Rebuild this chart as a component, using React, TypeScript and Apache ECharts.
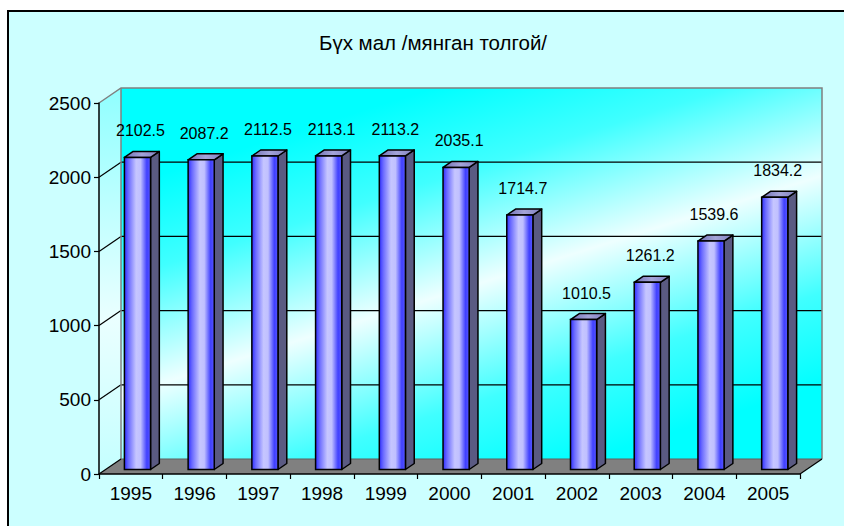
import React, { useEffect, useRef } from 'react';
import * as echarts from 'echarts';

const years = ['1995', '1996', '1997', '1998', '1999', '2000', '2001', '2002', '2003', '2004', '2005'];
const values = [2102.5, 2087.2, 2112.5, 2113.1, 2113.2, 2035.1, 1714.7, 1010.5, 1261.2, 1539.6, 1834.2];
const yTicks = [0, 500, 1000, 1500, 2000, 2500];
const chartTitle = 'Бүх мал /мянган толгой/';

const DX = 22;
const DY = -15;
const FONT = '"Liberation Sans", Arial, Helvetica, sans-serif';

export default function App() {
  const ref = useRef<HTMLDivElement>(null);

  useEffect(() => {
    const chart = echarts.init(ref.current as HTMLDivElement, null, { renderer: 'svg' });

    const frameRender = (params: any, api: any) => {
      const cs = params.coordSys;
      const x0 = cs.x;
      const x1 = cs.x + cs.width;
      const yZero = api.coord([0, yTicks[0]])[1];
      const yTop = api.coord([0, yTicks[yTicks.length - 1]])[1];
      const children: any[] = [];
      // back wall: light band running from left-middle to upper-right
      const cx = (x0 + x1) / 2 + DX - 40;
      const cy = (yZero + yTop) / 2 + DY + 25;
      const ux = 0.3;
      const uy = 0.954;
      const half = 200;
      children.push({
        type: 'polygon',
        shape: { points: [[x0 + DX, yTop + DY], [x1 + DX, yTop + DY], [x1 + DX, yZero + DY], [x0 + DX, yZero + DY]] },
        style: {
          fill: {
            type: 'linear',
            x: cx - ux * half, y: cy - uy * half,
            x2: cx + ux * half, y2: cy + uy * half,
            global: true,
            colorStops: [
              { offset: 0, color: '#00ffff' },
              { offset: 0.22, color: '#40ffff' },
              { offset: 0.5, color: '#eeffff' },
              { offset: 0.78, color: '#40ffff' },
              { offset: 1, color: '#00ffff' },
            ],
          },
          stroke: null,
        },
      });
      // side wall
      children.push({
        type: 'polygon',
        shape: { points: [[x0, yTop], [x0 + DX, yTop + DY], [x0 + DX, yZero + DY], [x0, yZero]] },
        style: {
          fill: {
            type: 'linear', x: 0, y: 0, x2: 0, y2: 1,
            colorStops: [
              { offset: 0, color: '#90ffff' },
              { offset: 0.6, color: '#eaffff' },
              { offset: 1, color: '#c4ffff' },
            ],
          },
          stroke: null,
        },
      });
      // floor
      children.push({
        type: 'polygon',
        shape: { points: [[x0, yZero], [x1, yZero], [x1 + DX, yZero + DY], [x0 + DX, yZero + DY]] },
        style: { fill: '#808080', stroke: null },
      });
      // gridlines
      yTicks.slice(1, yTicks.length - 1).forEach((t) => {
        const y = api.coord([0, t])[1];
        children.push({
          type: 'line',
          shape: { x1: x0 + DX, y1: y + DY, x2: x1 + DX, y2: y + DY },
          style: { stroke: '#000', lineWidth: 1.2 },
        });
        children.push({
          type: 'line',
          shape: { x1: x0, y1: y, x2: x0 + DX, y2: y + DY },
          style: { stroke: '#000', lineWidth: 1.2 },
        });
      });
      // wall edges (gray)
      children.push({
        type: 'polyline',
        shape: { points: [[x0, yTop], [x0 + DX, yTop + DY], [x1 + DX, yTop + DY], [x1 + DX, yZero + DY]] },
        style: { stroke: '#808080', lineWidth: 1.5, fill: null },
      });
      children.push({
        type: 'line',
        shape: { x1: x0 + DX, y1: yTop + DY, x2: x0 + DX, y2: yZero + DY },
        style: { stroke: '#808080', lineWidth: 1.5 },
      });
      children.push({
        type: 'line',
        shape: { x1: x0 + DX, y1: yZero + DY, x2: x1 + DX, y2: yZero + DY },
        style: { stroke: '#606060', lineWidth: 1.2 },
      });
      // floor diagonals (black)
      children.push({
        type: 'line',
        shape: { x1: x0, y1: yZero, x2: x0 + DX, y2: yZero + DY },
        style: { stroke: '#000', lineWidth: 1.2 },
      });
      children.push({
        type: 'line',
        shape: { x1: x1, y1: yZero, x2: x1 + DX, y2: yZero + DY },
        style: { stroke: '#000', lineWidth: 1.2 },
      });
      return { type: 'group', children };
    };

    const barRender = (params: any, api: any) => {
      const i = api.value(0);
      const v = api.value(1);
      const base = api.coord([i, 0]);
      const top = api.coord([i, v]);
      const cw = api.size([1, 0])[0];
      const bw = cw * 0.41;
      const f0 = 0.3;
      const f1 = 0.4;
      const L = base[0] + f0 * DX - bw / 2;
      const R = L + bw;
      const yb = base[1] + f0 * DY;
      const yt = top[1] + f0 * DY;
      const ox = f1 * DX;
      const oy = f1 * DY;
      return {
        type: 'group',
        children: [
          {
            type: 'polygon',
            shape: { points: [[R, yb], [R + ox, yb + oy], [R + ox, yt + oy], [R, yt]] },
            style: { fill: '#5a5a82', stroke: '#000', lineWidth: 1.5, lineJoin: 'round' },
          },
          {
            type: 'polygon',
            shape: { points: [[L, yt], [R, yt], [R + ox, yt + oy], [L + ox, yt + oy]] },
            style: {
              fill: {
                type: 'linear', x: 0, y: 0, x2: 1, y2: 0,
                colorStops: [
                  { offset: 0, color: '#7070b4' },
                  { offset: 0.5, color: '#a4a4d8' },
                  { offset: 1, color: '#8080c0' },
                ],
              },
              stroke: '#000', lineWidth: 1.5, lineJoin: 'round',
            },
          },
          {
            type: 'rect',
            shape: { x: L, y: yt, width: bw, height: yb - yt },
            style: {
              fill: {
                type: 'linear', x: 0, y: 0, x2: 1, y2: 0,
                colorStops: [
                  { offset: 0, color: '#2e2eff' },
                  { offset: 0.15, color: '#6a6aff' },
                  { offset: 0.45, color: '#c6c6ff' },
                  { offset: 0.62, color: '#c0c0ff' },
                  { offset: 0.86, color: '#4040ff' },
                  { offset: 1, color: '#5858ff' },
                ],
              },
              stroke: '#000', lineWidth: 1.5,
            },
          },
          {
            type: 'text',
            x: L + bw / 2 + 3,
            y: yt - 26.5,
            style: {
              text: v.toFixed(1),
              fill: '#000',
              font: '16px ' + FONT,
              align: 'center',
              verticalAlign: 'middle',
            },
          },
        ],
      };
    };

    chart.setOption({
      animation: false,
      backgroundColor: '#ffffff',
      graphic: [
        {
          type: 'rect',
          z: -10,
          silent: true,
          shape: { x: 8, y: 11, width: 900, height: 600 },
          style: { fill: '#ccffff', stroke: '#000', lineWidth: 2 },
        },
        {
          type: 'text',
          z: 10,
          x: 433,
          y: 42,
          style: {
            text: chartTitle,
            fill: '#000',
            font: '20.5px ' + FONT,
            align: 'center',
            verticalAlign: 'middle',
          },
        },
      ],
      grid: { left: 99, right: 44, top: 103, bottom: 52, containLabel: false },
      xAxis: {
        type: 'category',
        data: years,
        boundaryGap: true,
        z: 5,
        axisLine: { show: true, lineStyle: { color: '#000', width: 1.5 } },
        axisTick: { show: true, length: 5, lineStyle: { color: '#000', width: 1.2 } },
        axisLabel: { color: '#000', fontSize: 19, fontFamily: FONT, margin: 10 },
        splitLine: { show: false },
      },
      yAxis: {
        type: 'value',
        min: yTicks[0],
        max: yTicks[yTicks.length - 1],
        interval: yTicks[1] - yTicks[0],
        z: 5,
        axisLine: { show: true, lineStyle: { color: '#000', width: 1.5 } },
        axisTick: { show: true, length: 5, lineStyle: { color: '#000', width: 1.2 } },
        axisLabel: {
          color: '#000',
          fontSize: 19,
          fontFamily: FONT,
          margin: 8,
          formatter: (val: number) => String(val),
        },
        splitLine: { show: false },
      },
      series: [
        {
          type: 'custom',
          name: 'frame',
          z: 1,
          silent: true,
          renderItem: frameRender,
          data: [[0, 0]],
          encode: { x: 0, y: 1 },
          clip: false,
        },
        {
          type: 'custom',
          name: 'Бүх мал',
          z: 3,
          renderItem: barRender,
          data: values.map((v, i) => [i, v]),
          encode: { x: 0, y: 1 },
          clip: false,
        },
      ],
    });

    return () => {
      chart.dispose();
    };
  }, []);

  return (
    <div
      ref={ref}
      style={{ position: 'fixed', left: 0, top: 0, width: 844, height: 526 }}
    />
  );
}
